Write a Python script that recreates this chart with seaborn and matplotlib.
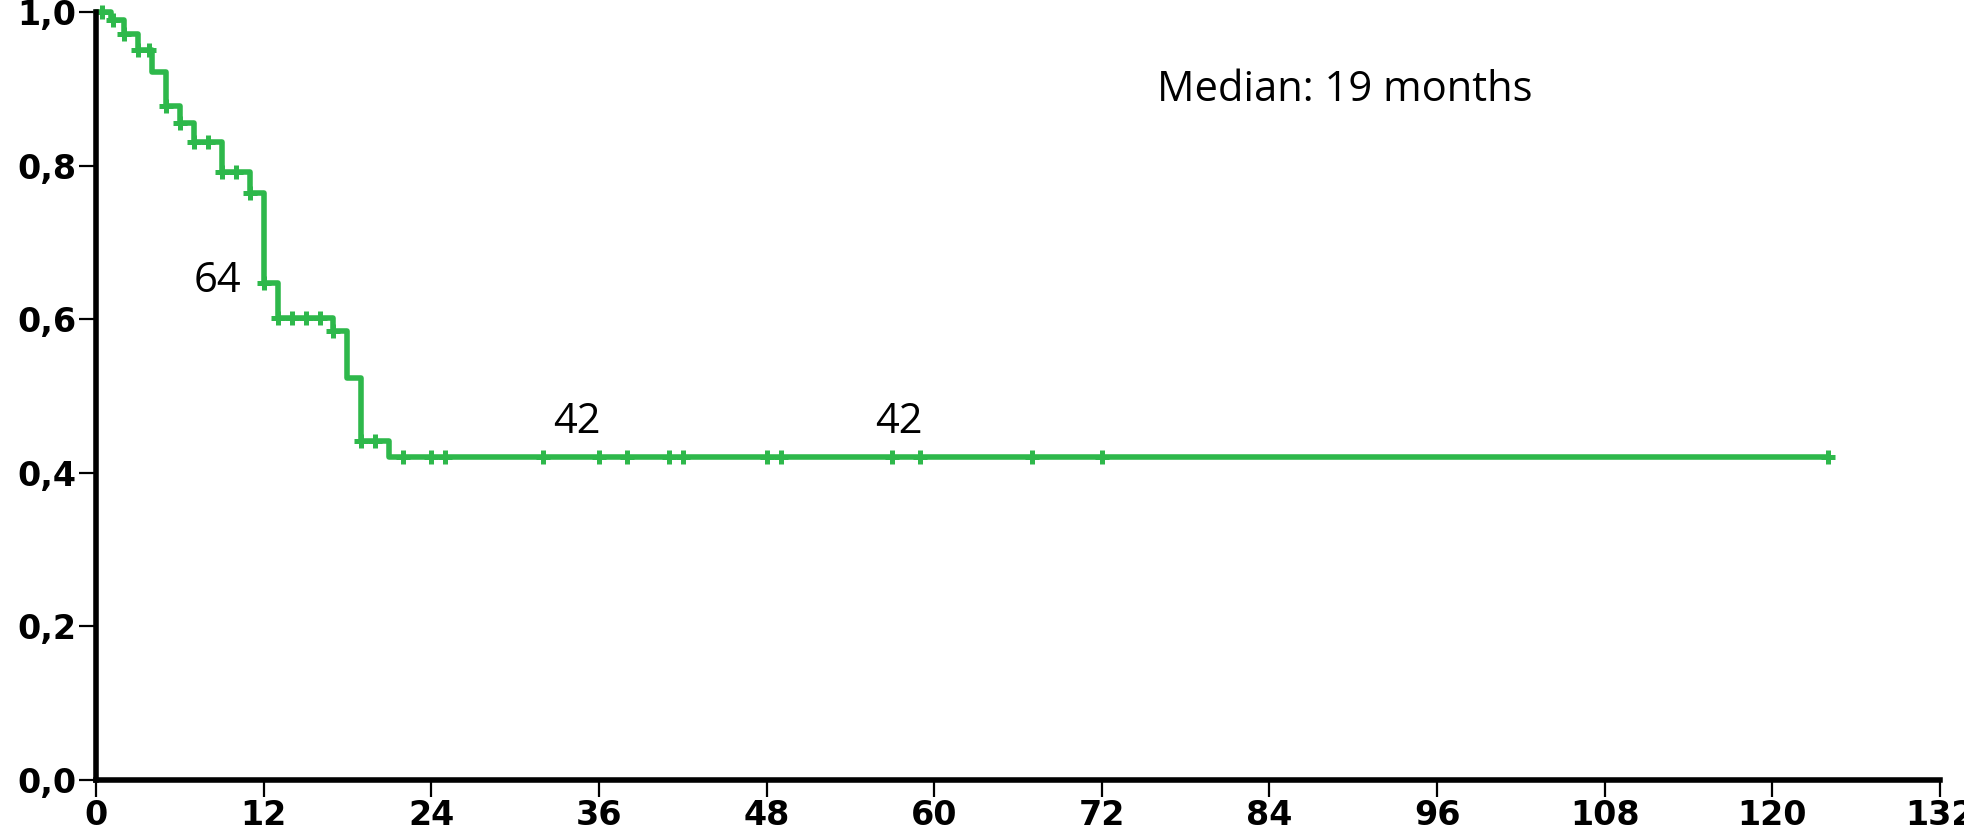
import matplotlib
matplotlib.use("Agg")
import matplotlib.pyplot as plt
import numpy as np
import pandas as pd
import seaborn as sns

# Kaplan-Meier steps (months, survival after the drop)
step_times = [0, 1.1, 2.0, 3.0, 4.0, 5.0, 6.0, 7.0, 9.0, 11.0, 12.0, 13.0, 17.0, 18.0, 19.0, 21.0]
step_surv = [1.0, 0.990, 0.972, 0.951, 0.922, 0.878, 0.855, 0.831, 0.792, 0.764, 0.647, 0.601, 0.584, 0.523, 0.441, 0.420]
followup_end = 124
censor_times = [0.4, 1.2, 2.0, 3.0, 3.8, 5.0, 6.0, 7.0, 8.0, 9.0, 10.0, 11.0, 12.0, 13.0, 14.0,
                15.0, 16.0, 17.0, 19.0, 20.0, 22, 24, 25, 32, 36, 38, 41, 42, 48, 49, 57, 59, 67, 72, 124]

x_ticks = [0, 12, 24, 36, 48, 60, 72, 84, 96, 108, 120, 132]
y_ticks = [0.0, 0.2, 0.4, 0.6, 0.8, 1.0]
y_tick_labels = ["0,0", "0,2", "0,4", "0,6", "0,8", "1,0"]

annotations = [("64", 10.4, 0.650, "right"), ("42", 34.4, 0.466, "center"), ("42", 57.5, 0.466, "center")]
median_text = "Median: 19 months"

GREEN = "#2eb84b"

sns.set_theme(style="white")
plt.rcParams["font.family"] = ["DejaVu Sans"]

curve = pd.DataFrame({
    "months": step_times + [followup_end],
    "survival": step_surv + [step_surv[-1]],
})
idx = np.searchsorted(step_times, censor_times, side="right") - 1
censors = pd.DataFrame({"months": censor_times, "survival": np.array(step_surv)[idx]})

fig = plt.figure(figsize=(19.64, 8.32), dpi=100)
ax = fig.add_axes([96 / 1964, 52 / 832, (1940 - 96) / 1964, (780 - 12) / 832])

sns.lineplot(data=curve, x="months", y="survival", drawstyle="steps-post", color=GREEN,
             linewidth=4.0, ax=ax, clip_on=False, zorder=3)
sns.scatterplot(data=censors, x="months", y="survival", marker="+", s=110, linewidth=3.6,
                color=GREEN, ax=ax, clip_on=False, zorder=4)

ax.set_xlim(0, 132)
ax.set_ylim(0, 1.0)
ax.set_xticks(x_ticks)
ax.set_xticklabels([str(t) for t in x_ticks], fontsize=24, fontweight="bold")
ax.set_yticks(y_ticks)
ax.set_yticklabels(y_tick_labels, fontsize=24, fontweight="bold")
ax.tick_params(axis="both", direction="out", length=12, width=1.6, color="black",
               labelcolor="black", pad=2, bottom=True, left=True)
ax.set_xlabel("")
ax.set_ylabel("")
for side in ["top", "right"]:
    ax.spines[side].set_visible(False)
for side in ["left", "bottom"]:
    ax.spines[side].set_color("black")
    ax.spines[side].set_linewidth(4.0)
    ax.spines[side].set_zorder(5)

for label, x, y, ha in annotations:
    ax.text(x, y, label, ha=ha, va="center", fontsize=30, family="Open Sans", color="black")
ax.text(89.4, 0.898, median_text, ha="center", va="center", fontsize=30, family="Open Sans", color="black")

fig.savefig("out.png", dpi=100)
